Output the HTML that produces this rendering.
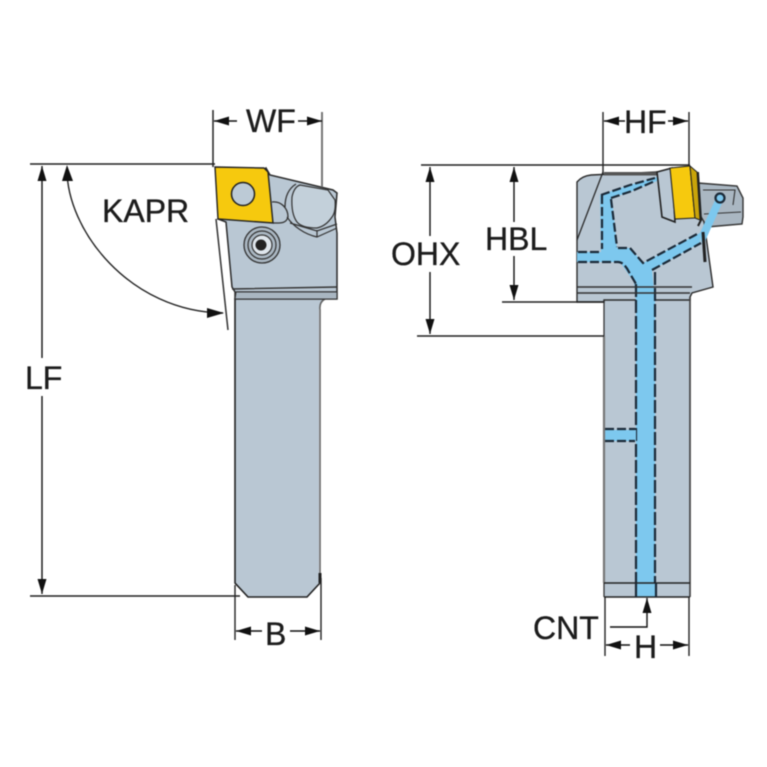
<!DOCTYPE html>
<html><head><meta charset="utf-8"><style>
html,body{margin:0;padding:0;background:#fff}
svg{display:block;filter:blur(.45px)}
text{font-family:"Liberation Sans",sans-serif;font-size:32px;fill:#1c1c1c;stroke:#1c1c1c;stroke-width:.35px}
</style></head><body>
<svg width="767" height="767" viewBox="0 0 767 767" xmlns="http://www.w3.org/2000/svg">
<defs>
<marker id="a" viewBox="0 0 15 9" refX="15" refY="4.5" markerWidth="15" markerHeight="9" markerUnits="userSpaceOnUse" orient="auto-start-reverse"><path d="M0 0L15 4.5L0 9z" fill="#111"/></marker>
</defs>
<!-- Left tool -->
<path d="M235 298H325L319 308V583L307 597H248L235 583Z" fill="#b9c7d3"/>
<path d="M235 298V583L248 597H307L320 583" fill="none" stroke="#222" stroke-width="1.6"/>
<path d="M325 299Q319 302 320 310V573" fill="none" stroke="#666" stroke-width="1.6"/>
<path d="M320 573V583" stroke="#222" stroke-width="3"/>
<path d="M266 168L270 175L333 190L337 193L335 217L337 233V299H235V292L232 287L226 222L218 219Z" fill="#b9c7d3" stroke="#2b2b2b" stroke-width="1.5"/>
<path d="M232 289Q285 288 337 287M236 292H337" stroke="#333" stroke-width="1.4" fill="none"/>
<path d="M236 292H337V299H235Z" fill="#a9b6c1" stroke="#333" stroke-width="1.1"/>
<path d="M292 197Q294 187 300 185L328 190L335 200Q336 212 332 217Q326 226 317 228Q302 228 297 222Q291 214 292 197Z" fill="#c3d0da" stroke="#333" stroke-width="1.2"/>
<path d="M296 184C288 189 285 198 285 207M272 202C281 201 288 208 288 217C286 224 280 223 273 223" fill="none" stroke="#333" stroke-width="1.3"/>
<path d="M287 217C293 226 304 234 317 237L337 228M290 223L317 231L337 224M317 230V237" fill="none" stroke="#333" stroke-width="1.2"/>
<circle cx="262" cy="245" r="18" fill="#aab7c2" stroke="#333" stroke-width="1.3"/>
<circle cx="262" cy="245" r="14" fill="none" stroke="#333" stroke-width="1.2"/>
<circle cx="262" cy="245" r="10" fill="#dfe6ec" stroke="#333" stroke-width="1.2"/>
<circle cx="261" cy="245" r="5.5" fill="#222"/>
<path d="M215 167L264 168L268 172L273 223L218 219Z" fill="#f6c90e" stroke="#222" stroke-width="1.4"/>
<circle cx="243" cy="194" r="11.5" fill="#bccad6" stroke="#222" stroke-width="1.5"/>
<!-- Left dims -->
<path d="M213 110V167" stroke="#222" stroke-width="1.5" fill="none"/>
<path d="M322 112V187" stroke="#777" stroke-width="2" fill="none"/>
<path d="M214 121H237" stroke="#111" stroke-width="1.4" marker-start="url(#a)"/>
<path d="M298 121H322" stroke="#111" stroke-width="1.4" marker-end="url(#a)"/>
<text x="246" y="132">WF</text>
<path d="M30 164H215M30 596H240" stroke="#222" stroke-width="1.4" fill="none"/>
<path d="M42 166V358" stroke="#111" stroke-width="1.4" marker-start="url(#a)"/>
<path d="M42 396V594" stroke="#111" stroke-width="1.4" marker-end="url(#a)"/>
<text x="25" y="389">LF</text>
<path d="M67 168C66 230 130 312 223 313" fill="none" stroke="#222" stroke-width="1.4"/>
<path d="M62 181L67 165L73 181Z" fill="#111"/>
<path d="M207 308L224 313L207 318Z" fill="#111"/>
<path d="M216 219L228 330" stroke="#333" stroke-width="1.5"/>
<text x="102" y="222">KAPR</text>
<path d="M235 585V640M321 578V640" stroke="#222" stroke-width="1.4" fill="none"/>
<path d="M236 631H262" stroke="#111" stroke-width="1.4" marker-start="url(#a)"/>
<path d="M290 631H320" stroke="#111" stroke-width="1.4" marker-end="url(#a)"/>
<text x="265" y="645">B</text>
<!-- Right tool -->
<path d="M577 296H604V302H577Z" fill="#b9c7d3"/>
<path d="M604 296H690V597H604Z" fill="#b9c7d3"/>
<path d="M577 182Q582 176 591 175L657 172H690L698 183L701 200L713 287L692 293L690 297V300H604V302H577Z" fill="#b9c7d3" stroke="#2b2b2b" stroke-width="1.4"/>
<path d="M698 183L737 186L743 198V217L742 224L707 227L700 215Z" fill="#aab7c2" stroke="#333" stroke-width="1.4"/>
<path d="M703 190H735L733 205M704 214L741 212" fill="none" stroke="#333" stroke-width="1.1"/>
<!-- coolant -->
<g fill="#7dc8ee">
<path d="M600 195L630 185L657 177V181L632 191L612 198L617 248H630L643 263L700 233V243L652 270L655 300V597H636V300L634 282L620 262H577V252H601Z"/>
<path d="M699 235L716 198L723 201L703 246Z"/>
</g>
<g fill="none" stroke="#1b2a38" stroke-width="2.2" stroke-dasharray="9 3">
<path d="M602 195V249"/>
<path d="M611 199L617 247"/>
<path d="M578 252H601M578 262H618Q624 262 629 272L636 284"/>
<path d="M618 248H630L643 263L699 233"/>
<path d="M652 270L701 243"/>
<path d="M601 195L630 185L655 178M611 198L632 191L655 181"/>
</g>
<path d="M636 284V583M655 272V583" fill="none" stroke="#1b2a38" stroke-width="2.2" stroke-dasharray="13 3"/>
<path d="M605 430H636V441H605Z" fill="#7dc8ee"/>
<path d="M605 429H635M605 441H635" stroke="#1b2a38" stroke-width="2.2" stroke-dasharray="9 3" fill="none"/>
<path d="M577 240L603 172" stroke="#2b2b2b" stroke-width="1.3" fill="none"/>
<path d="M604 172H657V175.5H604Z" fill="#555"/>
<path d="M657 172L672 168L675 222L662 217Z" fill="#b9c7d3" stroke="#222" stroke-width="1.6"/>
<path d="M670 168L690 166L695 218L675 219Z" fill="#f6c90e" stroke="#222" stroke-width="1.1"/>
<path d="M690 166L697 172L700 220L695 218Z" fill="#c9a40a" stroke="#222" stroke-width="1"/>
<path d="M698 172L701 220L698 226" fill="none" stroke="#222" stroke-width="2"/>
<circle cx="720" cy="198" r="4.5" fill="#7dc8ee" stroke="#1b2a38" stroke-width="2.2"/>
<path d="M703 232L705 262" stroke="#222" stroke-width="3"/>
<path d="M577 287H692M577 293H690" stroke="#333" stroke-width="1.4" fill="none"/>
<path d="M604 336V583" stroke="#777" stroke-width="2.2"/>
<path d="M604 300V336M604 583V597" stroke="#333" stroke-width="1.3"/>
<path d="M690 297V597" stroke="#444" stroke-width="1.7"/>
<path d="M604 583H690M604 597H690" stroke="#222" stroke-width="1.4" fill="none"/>
<path d="M636 583V597M656 583V597" stroke="#1b2a38" stroke-width="2.2"/>
<!-- Right dims -->
<path d="M603 112V175M689 112V166" stroke="#222" stroke-width="1.4" fill="none"/>
<path d="M604 121H625" stroke="#111" stroke-width="1.4" marker-start="url(#a)"/>
<path d="M668 121H688" stroke="#111" stroke-width="1.4" marker-end="url(#a)"/>
<text x="624" y="133">HF</text>
<path d="M421 165H690M502 302H604M417 336H604" stroke="#222" stroke-width="1.4" fill="none"/>
<path d="M430 167V236" stroke="#111" stroke-width="1.4" marker-start="url(#a)"/>
<path d="M430 272V334" stroke="#111" stroke-width="1.4" marker-end="url(#a)"/>
<text x="391" y="265">OHX</text>
<path d="M514 167V222" stroke="#111" stroke-width="1.4" marker-start="url(#a)"/>
<path d="M514 256V300" stroke="#111" stroke-width="1.4" marker-end="url(#a)"/>
<text x="485" y="250">HBL</text>
<path d="M605 597V656M689 597V656" stroke="#222" stroke-width="1.4" fill="none"/>
<path d="M606 645H630" stroke="#111" stroke-width="1.4" marker-start="url(#a)"/>
<path d="M660 645H688" stroke="#111" stroke-width="1.4" marker-end="url(#a)"/>
<text x="634" y="658">H</text>
<path d="M610 627H647V598" stroke="#111" stroke-width="1.4" fill="none" marker-end="url(#a)"/>
<text x="533" y="639">CNT</text>
</svg>
</body></html>
